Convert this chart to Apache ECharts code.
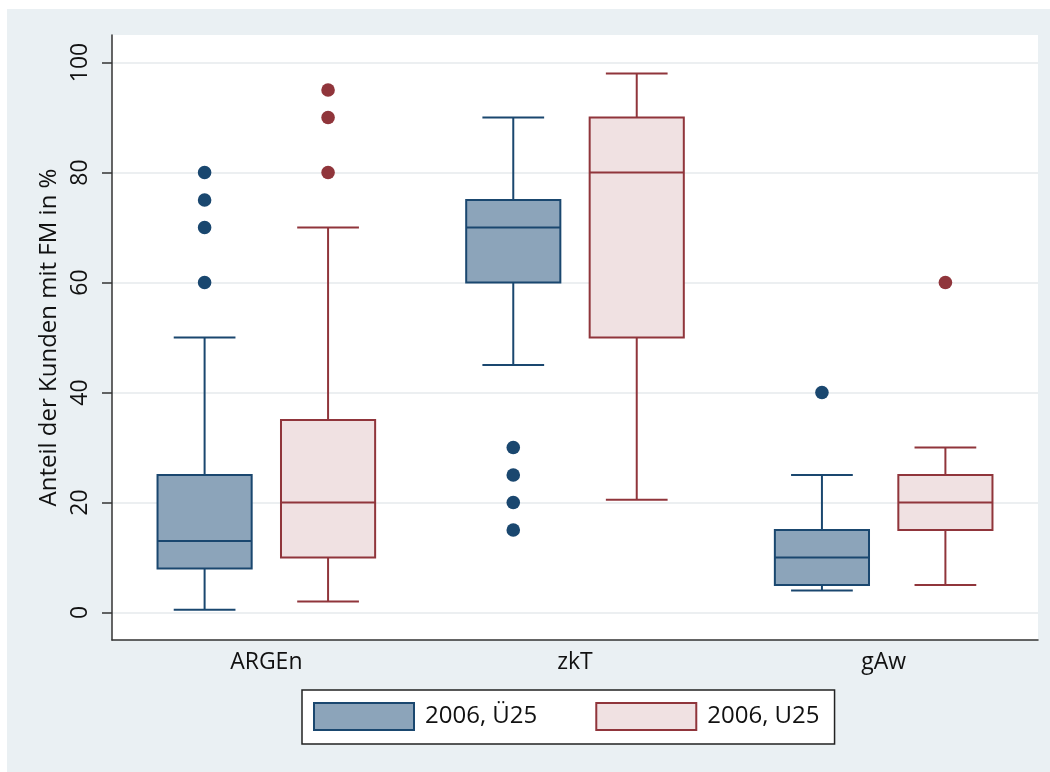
<!DOCTYPE html>
<html>
<head>
<meta charset="utf-8">
<script src="https://cdn.jsdelivr.net/npm/echarts@6/dist/echarts.min.js"></script>
<style>
  html, body { margin: 0; padding: 0; background: #ffffff; }
  #chart { position: absolute; left: 7px; top: 9px; width: 1043px; height: 763px; }
</style>
</head>
<body>
<div id="chart"></div>
<script>
// ---- data ----
const categories = ['ARGEn', 'zkT', 'gAw'];
const seriesNames = ['2006, Ü25', '2006, U25'];
const yTicks = [0, 20, 40, 60, 80, 100];
const yTitle = 'Anteil der Kunden mit FM in %';
// [min, Q1, median, Q3, max] per category
const boxUe25 = [[0.5, 8, 13, 25, 50], [45, 60, 70, 75, 90], [4, 5, 10, 15, 25]];
const boxU25 = [[2, 10, 20, 35, 70], [20.5, 50, 80, 90, 98], [5, 15, 20, 25, 30]];
// outliers: [categoryIndex, value]
const outUe25 = [[0, 60], [0, 70], [0, 75], [0, 80], [1, 30], [1, 25], [1, 20], [1, 15], [2, 40]];
const outU25 = [[0, 80], [0, 90], [0, 95], [2, 60]];

// ---- styles ----
const FONT = 'Open Sans';
const FS = 23;
const styles = [
  { fill: '#8ca4ba', stroke: '#1a476f', dot: '#1a476f', side: -1 },
  { fill: '#f0e1e2', stroke: '#90353b', dot: '#90353b', side: 1 }
];

function boxRender(st) {
  return function (params, api) {
    const cat = api.value(0);
    const band = api.size([1, 0])[0];
    const cx = api.coord([cat, 0])[0] + st.side * 0.2 * band;
    const bw = 0.305 * band;
    const cw = 0.2 * band;
    const y = i => api.coord([cat, api.value(i)])[1];
    const yMin = y(1), yQ1 = y(2), yMed = y(3), yQ3 = y(4), yMax = y(5);
    const ls = { stroke: st.stroke, lineWidth: 2, fill: null };
    return {
      type: 'group',
      children: [
        { type: 'line', shape: { x1: cx, y1: yMax, x2: cx, y2: yQ3 }, style: ls },
        { type: 'line', shape: { x1: cx, y1: yQ1, x2: cx, y2: yMin }, style: ls },
        { type: 'line', shape: { x1: cx - cw / 2, y1: yMax, x2: cx + cw / 2, y2: yMax }, style: ls },
        { type: 'line', shape: { x1: cx - cw / 2, y1: yMin, x2: cx + cw / 2, y2: yMin }, style: ls },
        { type: 'rect', shape: { x: cx - bw / 2, y: yQ3, width: bw, height: yQ1 - yQ3 },
          style: { fill: st.fill, stroke: st.stroke, lineWidth: 2 } },
        { type: 'line', shape: { x1: cx - bw / 2, y1: yMed, x2: cx + bw / 2, y2: yMed }, style: ls }
      ]
    };
  };
}

function dotRender(st) {
  return function (params, api) {
    const cat = api.value(0);
    const band = api.size([1, 0])[0];
    const p = api.coord([cat, api.value(1)]);
    return {
      type: 'circle',
      shape: { cx: p[0] + st.side * 0.2 * band, cy: p[1], r: 6.8 },
      style: { fill: st.dot }
    };
  };
}

const boxes = [boxUe25, boxU25];
const outs = [outUe25, outU25];
const series = [];
for (let s = 0; s < 2; s++) {
  series.push({
    name: seriesNames[s],
    type: 'custom',
    renderItem: boxRender(styles[s]),
    encode: { x: 0, y: [1, 2, 3, 4, 5] },
    data: boxes[s].map((b, i) => [i].concat(b)),
    itemStyle: { color: styles[s].fill, borderColor: styles[s].stroke },
    z: 3
  });
  series.push({
    name: seriesNames[s],
    type: 'custom',
    renderItem: dotRender(styles[s]),
    encode: { x: 0, y: 1 },
    data: outs[s],
    itemStyle: { color: styles[s].dot },
    z: 4
  });
}

const chart = echarts.init(document.getElementById('chart'), null, { renderer: 'canvas' });
chart.setOption({
  backgroundColor: '#eaf0f3',
  animation: false,
  textStyle: { fontFamily: FONT },
  grid: {
    left: 105, top: 26, right: 12, bottom: 132,
    show: true, backgroundColor: '#ffffff', borderWidth: 0,
    containLabel: false
  },
  legend: {
    left: 295, top: 681,
    orient: 'horizontal',
    padding: [12, 15, 13, 11],
    backgroundColor: '#ffffff',
    borderColor: '#222222',
    borderWidth: 1.5,
    borderRadius: 0,
    itemWidth: 100,
    itemHeight: 27,
    itemGap: 58,
    textStyle: { fontFamily: FONT, fontSize: 24, lineHeight: 27, color: '#111111', padding: [0, 0, 0, 6] },
    data: seriesNames.map((n, i) => ({
      name: n,
      icon: 'rect',
      itemStyle: { color: styles[i].fill, borderColor: styles[i].stroke, borderWidth: 2 }
    }))
  },
  xAxis: {
    type: 'category',
    data: categories,
    boundaryGap: true,
    axisLine: { show: true, onZero: false, lineStyle: { color: '#333333', width: 1.5 } },
    axisTick: { show: false },
    axisLabel: { fontFamily: FONT, fontSize: FS, color: '#111111', margin: 11 },
    splitLine: { show: false }
  },
  yAxis: {
    type: 'value',
    min: -5,
    max: 105,
    name: yTitle,
    nameLocation: 'middle',
    nameGap: 50,
    nameRotate: 90,
    nameTextStyle: { fontFamily: FONT, fontSize: 24, color: '#111111' },
    axisLine: { show: true, onZero: false, lineStyle: { color: '#333333', width: 1.5 } },
    axisTick: { show: true, customValues: yTicks, length: 10, inside: false, lineStyle: { color: '#333333', width: 1.5 } },
    axisLabel: { customValues: yTicks, rotate: 90, margin: 20, fontFamily: FONT, fontSize: FS, color: '#111111' },
    splitLine: { show: true, lineStyle: { color: '#eceff1', width: 2 } }
  },
  series: series
});
</script>
</body>
</html>
